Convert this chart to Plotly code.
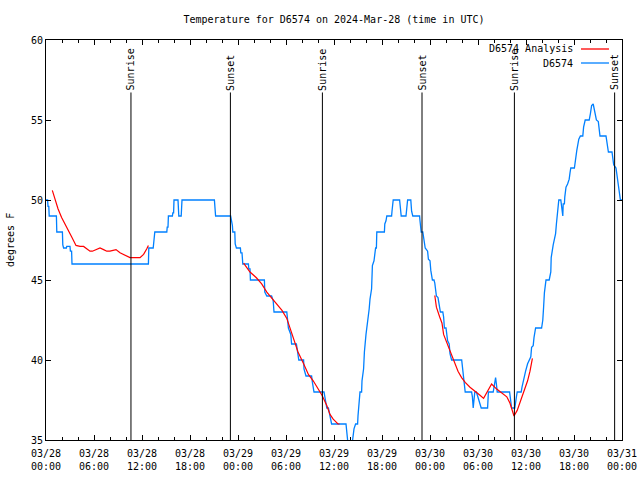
import plotly.graph_objects as go
import pandas as pd

START = pd.Timestamp("2024-03-28 00:00")

# D6574 observations: hours since 03/28 00:00 UTC, degrees F
obs_hours = [0.0, 0.2, 0.25, 0.35, 0.4, 1.3, 1.35, 2.05, 2.1, 2.2, 2.55, 2.6, 3.0, 3.05, 3.2, 3.25,
             12.8, 12.85, 13.4, 13.6, 15.1, 15.15, 15.25, 15.3, 15.8, 15.85, 15.95, 16.0, 16.5, 16.6,
             16.9, 17.0, 21.05, 21.2, 23.08, 23.2, 23.3, 23.35, 23.6, 23.65, 23.8, 24.3, 24.35, 24.5,
             24.55, 24.6, 25.3, 25.35, 25.5, 25.55, 27.3, 27.35, 27.6, 28.2, 28.4, 28.5, 30.1, 30.15,
             30.3, 30.6, 30.7, 31.3, 31.5, 31.6, 32.2, 32.25, 32.5, 33.2, 33.3, 33.5, 34.75, 34.9,
             35.1, 35.3, 35.5, 35.7, 37.5, 37.65, 37.8, 38.2, 38.3, 38.5, 38.7, 38.95, 39.0, 39.2,
             39.25, 39.45, 39.5, 39.7, 39.8, 40.0, 40.2, 40.3, 40.4, 40.5, 40.7, 40.8, 41.0, 41.2,
             41.3, 41.35, 42.3, 42.35, 42.5, 42.6, 43.2, 43.25, 43.4, 44.2, 44.3, 44.4, 45.0, 45.1,
             45.2, 45.6, 45.7, 45.85, 46.7, 46.75, 46.9, 47.1, 47.2, 47.4, 47.7, 47.8, 48.0, 48.1,
             48.3, 48.5, 48.6, 48.8, 49.0, 49.2, 49.3, 49.6, 49.7, 49.8, 50.0, 50.2, 50.4, 50.5,
             50.7, 51.96, 52.1, 52.25, 52.4, 53.2, 53.3, 53.4, 53.5, 53.6, 53.8, 54.04, 54.4, 55.2,
             55.3, 55.9, 56.04, 56.2, 56.3, 56.4, 57.95, 58.1, 58.2, 58.6, 58.7, 58.8, 58.9, 59.4,
             59.5, 59.65, 59.8, 59.95, 60.2, 60.4, 60.6, 60.7, 60.9, 61.0, 61.2, 61.95, 62.1, 62.2,
             62.3, 62.5, 62.9, 63.1, 63.15, 63.4, 63.5, 63.6, 63.7, 63.8, 63.9, 64.0, 64.1, 64.35,
             64.45, 64.6, 64.65, 64.8, 64.85, 65.0, 65.2, 65.4, 65.5, 65.6, 66.05, 66.2, 66.35, 66.6,
             66.8, 67.1, 67.2, 67.4, 67.9, 68.05, 68.2, 68.4, 68.6, 68.8, 69.04, 69.1, 69.25, 70.0,
             70.1, 70.2, 70.3, 70.75, 70.85, 70.96, 71.25, 71.4, 71.5, 71.6, 71.8, 72.0]
obs_temp = [50, 50, 49.6, 49.6, 49, 49, 48, 48, 47.2, 47, 47, 47.1, 47.1, 46.8, 46.8, 46,
            46, 47, 47, 48, 48, 48.3, 48.3, 49, 49, 49.2, 49.2, 50, 50, 49,
            49, 50, 50, 49, 49, 48.76, 48.4, 48, 48, 47.26, 47, 47, 46.7, 46.7,
            46.2, 46, 46, 45.7, 45.7, 45, 45, 44.24, 44, 44, 43.7, 43, 43, 42.6,
            42, 41.6, 41, 41, 40.4, 40, 40, 39.45, 39, 39, 38.6, 38, 38, 37.5,
            37, 37, 36.5, 36, 36, 35.2, 34.5, 34.5, 35, 35.7, 36, 36, 36.5, 37.5,
            38, 38, 38.7, 39.45, 40.5, 41.6, 42.26, 42.7, 43.2, 43.8, 44.45, 45.9, 46.2, 47,
            47, 48, 48, 48.5, 48.7, 49, 49, 49.3, 50, 50, 49.3, 49, 49, 49.6,
            50, 50, 49.3, 49, 49, 48.7, 48, 48, 47.6, 47, 46.8, 46.3, 46.2, 45.6,
            45, 45, 44.8, 44, 43.9, 43.3, 43, 43, 42.7, 42, 42, 41.2, 41, 40.4,
            40, 40, 39.45, 38.9, 38, 38, 37.7, 37, 37.7, 38, 38, 37.6, 37, 37,
            38, 38, 38.5, 38.9, 38.5, 38, 38, 37.3, 37, 37, 37.5, 37.7, 38, 38,
            38.3, 38.7, 38.9, 39.3, 39.76, 40, 40.2, 40.8, 40.9, 41.4, 42, 42, 42.5, 43.3,
            44.2, 45, 45, 45.5, 46.4, 47.2, 47.4, 47.7, 47.9, 48.5, 49.1, 49.55, 50, 50,
            49.45, 49, 49.76, 49.76, 50.2, 50.8, 51, 51.3, 51.7, 52, 52, 52.7, 53.1, 53.8,
            54, 54, 54.55, 55, 55, 55.4, 55.9, 56, 55.5, 55, 54.9, 54.5, 54, 54,
            53.7, 53.4, 53, 53, 52.6, 52.2, 52, 51.4, 51.1, 50.6, 50, 50]

# D6574 Analysis: three separate segments
ana1_hours = [0.79, 1.1, 1.5, 1.95, 2.4, 2.8, 3.2, 3.75, 4.25, 4.7, 5.1, 5.5, 5.8, 6.3, 6.75,
              7.2, 7.6, 8.0, 8.4, 8.75, 9.25, 9.7, 10.1, 10.5, 11.75, 12.2, 12.6, 12.8]
ana1_temp = [50.6, 50.07, 49.45, 48.9, 48.5, 48.1, 47.7, 47.16, 47.1, 47.1, 46.95, 46.8, 46.8,
             46.9, 47.0, 46.9, 46.8, 46.8, 46.85, 46.9, 46.7, 46.6, 46.5, 46.4, 46.4, 46.6,
             46.95, 47.16]
ana2_hours = [24.7, 25.5, 26.3, 26.96, 27.6, 28.2, 28.8, 29.5, 30.1, 30.7, 31.1, 31.5, 32.2,
              32.8, 33.4, 34.04, 34.5, 35.1, 35.5, 35.9, 36.5, 36.7]
ana2_temp = [46.05, 45.5, 45.14, 44.76, 44.24, 43.9, 43.5, 43.1, 42.6, 41.7, 41.2, 40.5, 39.76,
             39.1, 38.7, 38.2, 37.8, 37.16, 36.6, 36.3, 36.0, 36.0]
ana3_hours = [48.6, 48.8, 49.2, 49.5, 49.7, 50.0, 50.4, 50.7, 51.1, 51.5, 51.95, 52.4, 53.0,
              53.8, 54.25, 54.7, 55.1, 55.7, 56.3, 57.0, 57.6, 58.0, 58.25, 58.5, 58.9, 59.3,
              59.7, 60.2, 60.5, 60.8]
ana3_temp = [44.03, 43.3, 42.7, 42.3, 41.6, 41.2, 40.8, 40.4, 39.86, 39.3, 38.9, 38.6, 38.3,
             38.0, 37.8, 37.6, 38.0, 38.5, 38.2, 37.9, 37.7, 37.3, 36.9, 36.5, 36.85, 37.4,
             38.0, 38.7, 39.3, 40.1]

sun_hours = [10.62, 23.05, 34.55, 47.0, 58.55, 71.08]
sun_names = ["Sunrise", "Sunset", "Sunrise", "Sunset", "Sunrise", "Sunset"]
sun_label_base = 56.72

tick_hours = list(range(0, 73, 6))

FONT = "DejaVu Sans Mono"
BLUE = "#0080ff"
RED = "#ff0000"


def t(h):
    return START + pd.Timedelta(hours=h)


ana_x, ana_y = [], []
for hs, vs in [(ana1_hours, ana1_temp), (ana2_hours, ana2_temp), (ana3_hours, ana3_temp)]:
    ana_x += [t(h) for h in hs] + [None]
    ana_y += list(vs) + [None]

fig = go.Figure()
fig.add_trace(go.Scatter(x=[t(h) for h in obs_hours], y=obs_temp, mode="lines",
                         line=dict(color=BLUE, width=1.3), name="D6574", showlegend=False))
fig.add_trace(go.Scatter(x=ana_x, y=ana_y, mode="lines", connectgaps=False,
                         line=dict(color=RED, width=1.2), name="D6574 Analysis", showlegend=False))

shapes = []
annotations = []
for h, name in zip(sun_hours, sun_names):
    shapes.append(dict(type="line", xref="x", yref="y", x0=t(h), x1=t(h), y0=35, y1=sun_label_base,
                       line=dict(color="black", width=1)))
    annotations.append(dict(x=t(h), y=sun_label_base, xref="x", yref="y", text=name,
                            textangle=-90, showarrow=False, xanchor="center", yanchor="bottom",
                            font=dict(family=FONT, size=10, color="black")))

# legend (gnuplot style: text then line sample)
legend_items = [("D6574 Analysis", RED, 0.9775), ("D6574", BLUE, 0.9425)]
for label, color, yp in legend_items:
    annotations.append(dict(x=0.918, y=yp, xref="paper", yref="paper", text=label, showarrow=False,
                            xanchor="right", yanchor="middle",
                            font=dict(family=FONT, size=10, color="black")))
    shapes.append(dict(type="line", xref="paper", yref="paper", x0=0.9288, x1=0.9774, y0=yp, y1=yp,
                       line=dict(color=color, width=1.3)))

annotations.append(dict(x=-0.0625, y=0.5, xref="paper", yref="paper", text="degrees F",
                        textangle=-90, showarrow=False, xanchor="center", yanchor="middle",
                        font=dict(family=FONT, size=10, color="black")))

fig.update_layout(
    width=640, height=480,
    margin=dict(l=46, r=18, t=40, b=40, autoexpand=False),
    paper_bgcolor="white", plot_bgcolor="white",
    font=dict(family=FONT, size=10, color="black"),
    title=dict(text="Temperature for D6574 on 2024-Mar-28 (time in UTC)", x=0.5, xref="paper",
               y=1 - 19 / 480, yanchor="middle", font=dict(family=FONT, size=10, color="black")),
    showlegend=False,
    shapes=shapes, annotations=annotations,
)
fig.update_xaxes(
    type="date", range=[t(0), t(72)], automargin=False,
    tickvals=[t(h) for h in tick_hours],
    ticktext=[t(h).strftime("%m/%d") + "<br>" + t(h).strftime("%H:%M") for h in tick_hours],
    ticks="inside", ticklen=5, tickcolor="black", tickwidth=1, ticklabelstandoff=4,
    minor=dict(dtick=2 * 3600 * 1000, tick0=t(0), ticks="inside", ticklen=3, tickcolor="black"),
    showline=True, linecolor="black", linewidth=1, mirror="ticks",
    showgrid=False, zeroline=False, tickangle=0,
    tickfont=dict(family=FONT, size=10, color="black"),
)
fig.update_yaxes(
    range=[35, 60], tickvals=[35, 40, 45, 50, 55, 60], automargin=False,
    ticks="inside", ticklen=5, tickcolor="black", tickwidth=1,
    showline=True, linecolor="black", linewidth=1, mirror="ticks",
    showgrid=False, zeroline=False,
    tickfont=dict(family=FONT, size=10, color="black"),
)

fig.write_html("out.html")
